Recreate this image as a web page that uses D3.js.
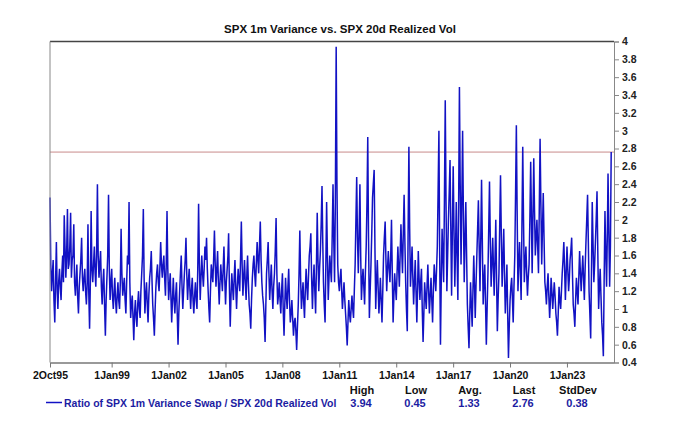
<!DOCTYPE html>
<html>
<head>
<meta charset="utf-8">
<script src="https://cdn.jsdelivr.net/npm/d3@7"></script>
<style>
  body { margin: 0; background: #fff; }
  svg text { font-family: "Liberation Sans", Arial, sans-serif; font-weight: bold; }
</style>
</head>
<body>
<div class="chart"></div>
<script>
// monthly readings of the ratio, first one is 2Oct95
const startDate = new Date(1995, 9, 2)
const endDate = new Date(2025, 5, 25)
const ratio = [
  2.25, 1.2, 1.55, 0.85, 1.75, 1.0, 1.45, 1.1, 1.6, 2.05,
  1.35, 2.12, 1.5, 2.08, 1.55, 1.95, 1.15, 1.5, 0.95, 1.4,
  1.8, 1.2, 1.45, 1.05, 1.95, 0.78, 2.1, 1.3, 1.7, 1.25,
  2.4, 1.35, 1.65, 1.05, 1.45, 0.7, 1.35, 2.28, 1.1, 1.45,
  1.0, 1.35, 0.95, 1.3, 1.0, 1.9, 1.15, 1.35, 0.95, 1.6,
  2.2, 0.9, 1.15, 0.65, 1.1, 0.8, 1.2, 0.9, 1.4, 2.12,
  0.95, 1.3, 0.85, 1.35, 1.65, 1.05, 0.7, 1.25, 1.5, 1.2,
  1.75, 1.35, 1.6, 1.15, 2.1, 1.1, 1.4, 0.85, 1.35, 0.95,
  1.3, 0.6, 1.2, 1.6, 1.0, 1.4, 1.8, 1.1, 1.45, 1.0,
  1.35, 0.95, 1.3, 1.0, 2.18, 1.1, 1.6, 1.25, 1.7, 1.8,
  1.2, 0.85, 1.5, 1.3, 1.88, 1.25, 1.65, 1.05, 1.5, 1.2,
  1.7, 1.05, 1.45, 1.85, 0.8, 1.4, 1.1, 1.55, 1.0, 1.45,
  1.2, 1.98, 1.15, 1.55, 1.1, 1.6, 1.05, 0.78, 1.35, 1.6,
  1.25, 1.75, 1.4, 1.98, 1.3, 1.05, 0.63, 1.4, 1.75, 1.1,
  1.5, 1.0, 1.4, 2.02, 1.05, 1.3, 0.95, 1.4, 0.7, 1.35,
  1.0, 1.45, 0.85, 1.1, 0.7, 0.9, 0.54, 1.05, 1.88, 1.0,
  1.3, 0.9, 1.45, 1.1, 1.6, 1.85, 1.0, 1.5, 0.95, 2.08,
  1.2, 1.65, 2.38, 1.3, 0.85, 2.2, 1.1, 1.6, 1.3, 2.4,
  1.3, 3.94, 1.5, 1.2, 1.45, 1.0, 1.3, 0.95, 0.59, 1.1,
  0.85, 1.15, 0.9, 1.5, 2.48, 1.4, 2.4, 1.1, 1.45, 1.05,
  1.7, 2.93, 0.9, 1.5, 2.25, 2.56, 1.0, 1.55, 0.95, 1.35,
  0.85, 1.6, 1.98, 1.2, 1.65, 1.3, 2.0, 0.85, 1.4, 1.1,
  1.7, 1.25, 1.95, 1.4, 2.28, 1.3, 0.75, 2.82, 1.25, 1.7,
  1.05, 1.55, 0.85, 1.65, 1.1, 1.45, 0.63, 1.3, 1.0, 1.5,
  0.95, 1.35, 0.85, 1.5, 1.2, 1.7, 3.0, 0.6, 1.9, 1.3,
  3.34, 1.2, 2.0, 2.67, 1.15, 2.6, 1.25, 2.2, 1.1, 3.49,
  1.5, 3.0, 1.3, 2.2, 1.05, 0.56, 1.3, 0.8, 1.6, 0.9,
  1.6, 2.22, 1.2, 2.45, 1.05, 1.5, 0.6, 1.4, 2.43, 1.25,
  1.8, 1.15, 2.0, 0.75, 1.4, 2.5, 1.25, 1.9, 0.95, 1.5,
  0.45, 1.1, 1.35, 0.85, 1.6, 3.06, 1.2, 1.75, 1.1, 2.82,
  1.3, 1.7, 1.15, 1.5, 2.65, 1.4, 2.69, 1.6, 2.0, 1.4,
  2.91, 1.5, 2.3, 1.3, 1.05, 1.4, 0.9, 1.35, 1.0, 1.3,
  0.95, 0.7, 1.25, 1.0, 1.4, 1.75, 1.1, 1.7, 1.2, 1.55,
  1.8, 1.05, 0.8, 1.35, 1.05, 1.65, 1.2, 1.6, 1.1, 1.75,
  2.28, 1.2, 0.67, 2.2, 1.3, 1.75, 2.32, 1.0, 1.45, 0.85,
  0.47, 2.1, 1.25, 2.52, 1.25, 2.76
]
// mid-month readings (the dense core between the monthly swings)
const ratioMid = [
  1.5, 1.4, 1.1, 1.3, 1.2, 1.3, 1.25, 1.4, 1.3, 1.7,
  1.6, 1.45, 1.7, 1.35, 1.6, 1.3, 1.35, 1.15, 1.25, 1.55,
  1.35, 1.35, 1.2, 1.3, 1.2, 1.3, 1.45, 1.5, 1.4, 1.6,
  1.6, 1.5, 1.25, 1.3, 1.05, 1.1, 1.6, 1.45, 1.3, 1.15,
  1.2, 1.1, 1.15, 1.1, 1.3, 1.4, 1.25, 1.1, 1.3, 1.5,
  1.3, 1.05, 0.9, 0.95, 0.9, 1.05, 1.0, 1.2, 1.6, 1.35,
  1.15, 1.05, 1.15, 1.45, 1.3, 0.9, 1.0, 1.4, 1.3, 1.45,
  1.5, 1.5, 1.35, 1.5, 1.45, 1.25, 1.1, 1.1, 1.1, 1.15,
  0.95, 0.95, 1.4, 1.25, 1.2, 1.55, 1.4, 1.3, 1.2, 1.2,
  1.1, 1.15, 1.1, 1.45, 1.5, 1.35, 1.4, 1.45, 1.55, 1.45,
  1.0, 1.2, 1.4, 1.55, 1.5, 1.45, 1.3, 1.3, 1.35, 1.45,
  1.35, 1.3, 1.6, 1.25, 1.15, 1.25, 1.35, 1.25, 1.25, 1.3,
  1.55, 1.5, 1.35, 1.3, 1.4, 1.3, 0.95, 1.1, 1.5, 1.4,
  1.5, 1.55, 1.7, 1.55, 1.15, 0.9, 1.05, 1.55, 1.4, 1.3,
  1.2, 1.25, 1.65, 1.4, 1.15, 1.1, 1.2, 1.0, 1.05, 1.15,
  1.25, 1.1, 0.95, 0.9, 0.85, 0.75, 0.8, 1.4, 1.35, 1.15,
  1.05, 1.2, 1.25, 1.35, 1.7, 1.35, 1.3, 1.2, 1.45, 1.55,
  1.45, 1.95, 1.75, 1.05, 1.5, 1.6, 1.35, 1.45, 1.8, 1.75,
  2.2, 2.4, 1.3, 1.35, 1.2, 1.15, 1.1, 0.8, 0.85, 0.95,
  1.0, 1.0, 1.2, 2.0, 1.8, 1.85, 1.6, 1.3, 1.25, 1.4,
  2.2, 1.8, 1.2, 1.85, 2.4, 1.7, 1.3, 1.25, 1.15, 1.1,
  1.2, 1.8, 1.55, 1.45, 1.45, 1.6, 1.4, 1.15, 1.25, 1.4,
  1.45, 1.6, 1.65, 1.85, 1.75, 1.0, 1.8, 1.9, 1.45, 1.35,
  1.3, 1.2, 1.25, 1.35, 1.3, 1.0, 0.95, 1.15, 1.25, 1.2,
  1.15, 1.1, 1.2, 1.35, 1.45, 2.3, 1.6, 1.3, 1.6, 2.2,
  2.2, 1.6, 2.3, 1.9, 1.85, 1.9, 1.7, 1.6, 2.2, 2.4,
  2.2, 2.1, 1.75, 1.6, 0.8, 0.95, 1.05, 1.2, 1.25, 1.25,
  1.9, 1.7, 1.8, 1.75, 1.3, 1.05, 1.0, 1.9, 1.8, 1.5,
  1.45, 1.55, 1.35, 1.1, 1.95, 1.85, 1.55, 1.4, 1.2, 0.95,
  0.8, 1.25, 1.1, 1.25, 2.3, 2.1, 1.5, 1.45, 1.9, 2.0,
  1.5, 1.4, 1.35, 2.0, 2.0, 2.0, 2.1, 1.8, 1.7, 2.1,
  2.2, 1.9, 1.8, 1.2, 1.25, 1.15, 1.1, 1.2, 1.15, 1.15,
  0.85, 0.95, 1.1, 1.2, 1.55, 1.45, 1.4, 1.45, 1.35, 1.65,
  1.4, 0.95, 1.1, 1.2, 1.35, 1.4, 1.4, 1.35, 1.45, 2.0,
  1.75, 0.95, 1.4, 1.75, 1.5, 2.0, 1.65, 1.25, 1.15, 0.7,
  1.3, 1.65, 1.85, 1.9, 1.7
]

const xTickDates = ['1995-10-02', '1999-01-01', '2002-01-01', '2005-01-01', '2008-01-01',
  '2011-01-01', '2014-01-01', '2017-01-01', '2020-01-01', '2023-01-01']
const xTickLabels = ['2Oct95', '1Jan99', '1Jan02', '1Jan05', '1Jan08',
  '1Jan11', '1Jan14', '1Jan17', '1Jan20', '1Jan23']
const yTicks = [0.4, 0.6, 0.8, 1, 1.2, 1.4, 1.6, 1.8, 2, 2.2, 2.4, 2.6, 2.8, 3, 3.2, 3.4, 3.6, 3.8, 4]

const statNames = ['High', 'Low', 'Avg.', 'Last', 'StdDev']
const statValues = ['3.94', '0.45', '1.33', '2.76', '0.38']
const refLevel = 2.76
const title = 'SPX 1m Variance vs. SPX 20d Realized Vol'
const seriesName = 'Ratio of SPX 1m Variance Swap / SPX 20d Realized Vol'

const width = 680
const height = 423
const margin = { top: 41.5, right: 66, bottom: 60.5, left: 50 }
const lineColor = '#1212c4'
const legendBlue = '#1c1ca2'

const data = []
ratio.forEach((v, i) => {
  const date = d3.timeMonth.offset(startDate, i)
  data.push({ date: date, value: v })
  if (i < ratioMid.length) {
    data.push({ date: d3.timeDay.offset(date, 15), value: ratioMid[i] })
  }
})

const x = d3
  .scaleTime()
  .domain([startDate, endDate])
  .range([margin.left, width - margin.right])

const y = d3
  .scaleLinear()
  .domain([0.4, 4])
  .range([height - margin.bottom, margin.top])

const svg = d3
  .select('.chart')
  .append('svg')
  .attr('width', width)
  .attr('height', height)

svg.append('text')
  .attr('x', 340)
  .attr('y', 33)
  .attr('text-anchor', 'middle')
  .attr('font-size', 11.5)
  .attr('fill', '#111')
  .text(title)

// reference line at the last value
svg.append('line')
  .attr('x1', margin.left)
  .attr('x2', width - margin.right)
  .attr('y1', y(refLevel))
  .attr('y2', y(refLevel))
  .attr('stroke', '#c98a8a')
  .attr('stroke-width', 1)

const line = d3
  .line()
  .x((d) => x(d.date))
  .y((d) => y(d.value))

svg.append('path')
  .datum(data)
  .attr('fill', 'none')
  .attr('stroke', lineColor)
  .attr('stroke-width', 1.5)
  .attr('stroke-linejoin', 'miter')
  .attr('d', line)

// frame: top and left
svg.append('line')
  .attr('x1', margin.left).attr('x2', width - margin.right)
  .attr('y1', margin.top).attr('y2', margin.top)
  .attr('stroke', '#444').attr('stroke-width', 1.5)
svg.append('line')
  .attr('x1', margin.left).attr('x2', margin.left)
  .attr('y1', margin.top).attr('y2', height - margin.bottom)
  .attr('stroke', '#888').attr('stroke-width', 1)

const yAxis = svg.append('g')
  .attr('transform', `translate(${width - margin.right},0)`)
  .call(
    d3.axisRight(y)
      .tickValues(yTicks)
      .tickFormat(d3.format('~g'))
      .tickSize(5)
      .tickPadding(3)
  )
yAxis.select('.domain').attr('stroke', '#888')
yAxis.selectAll('.tick line').attr('stroke', '#888')
yAxis.selectAll('.tick text')
  .attr('font-size', 10.5)
  .attr('fill', '#222')
  .style('font-family', '"Liberation Sans", Arial, sans-serif')

const xAxis = svg.append('g')
  .attr('transform', `translate(0,${height - margin.bottom})`)
  .call(
    d3.axisBottom(x)
      .tickValues(xTickDates.map((d) => d3.timeParse('%Y-%m-%d')(d)))
      .tickFormat((d, i) => xTickLabels[i])
      .tickSize(5)
      .tickSizeOuter(0)
      .tickPadding(4)
  )
xAxis.select('.domain').attr('stroke', '#777').attr('stroke-width', 1.5)
xAxis.selectAll('.tick line').attr('stroke', '#777')
xAxis.selectAll('.tick text')
  .attr('font-size', 10.5)
  .attr('fill', '#111')
  .style('font-family', '"Liberation Sans", Arial, sans-serif')

// legend and stats
const statX = d3.scalePoint().domain(statNames).range([362, 578])

svg.selectAll('.stat-name')
  .data(statNames)
  .enter()
  .append('text')
  .attr('class', 'stat-name')
  .attr('x', (d) => statX(d))
  .attr('y', 394)
  .attr('text-anchor', 'middle')
  .attr('font-size', 11)
  .attr('fill', '#111')
  .text((d) => d)

svg.selectAll('.stat-value')
  .data(statValues)
  .enter()
  .append('text')
  .attr('class', 'stat-value')
  .attr('x', (d, i) => statX(statNames[i]) - 1)
  .attr('y', 407)
  .attr('text-anchor', 'middle')
  .attr('font-size', 11)
  .attr('fill', legendBlue)
  .text((d) => d)

svg.append('line')
  .attr('x1', 46).attr('x2', 62)
  .attr('y1', 402.5).attr('y2', 402.5)
  .attr('stroke', lineColor)
  .attr('stroke-width', 1.5)

svg.append('text')
  .attr('x', 64)
  .attr('y', 407)
  .attr('font-size', 10.5)
  .attr('fill', legendBlue)
  .text(seriesName)
</script>
</body>
</html>
